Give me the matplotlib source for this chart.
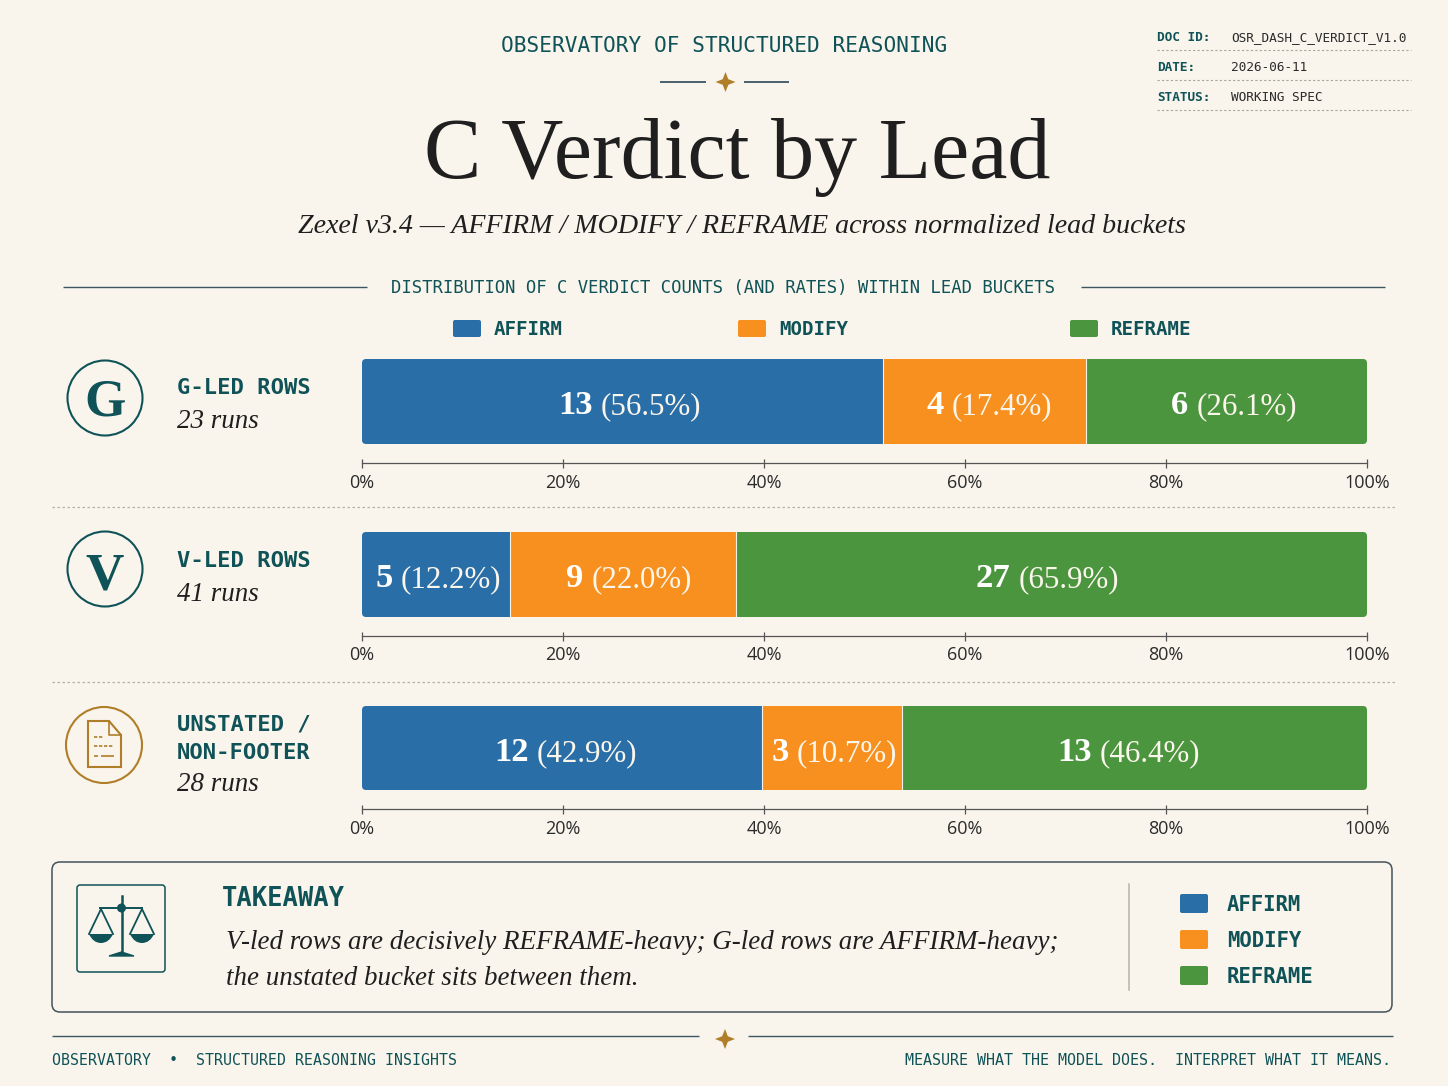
import matplotlib
matplotlib.use('Agg')
import matplotlib.pyplot as plt
from matplotlib.patches import FancyBboxPatch, Circle, Polygon
from matplotlib.path import Path
from matplotlib.patches import PathPatch

# values as drawn (bar widths in percent of the track)
affirm_width = [51.8, 14.7, 39.8]
modify_width = [20.2, 22.5, 13.9]
reframe_width = [28.0, 62.8, 46.3]
affirm_count = ['13', '5', '12']
modify_count = ['4', '9', '3']
reframe_count = ['6', '27', '13']
affirm_rate = ['(56.5%)', '(12.2%)', '(42.9%)']
modify_rate = ['(17.4%)', '(22.0%)', '(10.7%)']
reframe_rate = ['(26.1%)', '(65.9%)', '(46.4%)']
run_labels = ['23 runs', '41 runs', '28 runs']
tick_values = [0, 20, 40, 60, 80, 100]
tick_labels = ['0%', '20%', '40%', '60%', '80%', '100%']
legend_names = ['AFFIRM', 'MODIFY', 'REFRAME']

PAPER = '#f9f5ec'
TEAL = '#0f5257'
GOLD = '#b07d28'
INK = '#1f1f1f'
SLATE = '#3b5563'
COLORS = ['#2a6ea8', '#f7901e', '#4a953e']
SERIF = 'Liberation Serif'
MONO = 'DejaVu Sans Mono'
SANS = 'Open Sans'
W, H = 1448, 1086


def px(size):
    return size * 0.72


fig = plt.figure(figsize=(14.48, 10.86), dpi=100, facecolor=PAPER)
page = fig.add_axes([0, 0, 1, 1])
page.set_xlim(0, W)
page.set_ylim(H, 0)
page.axis('off')


def text(x, y, s, size, font=MONO, color=INK, weight='normal', style='normal', ha='left'):
    return page.text(x, y, s, fontsize=px(size), family=font, color=color, weight=weight,
                     style=style, ha=ha, va='baseline')


def star(x, y, r):
    k = r * 0.28
    pts = [(x, y - r), (x + k, y - k), (x + r, y), (x + k, y + k),
           (x, y + r), (x - k, y + k), (x - r, y), (x - k, y - k)]
    page.add_patch(Polygon(pts, closed=True, fc=GOLD, ec='none'))


def hline(x0, x1, y, color=SLATE, lw=1.0, ls='-'):
    page.plot([x0, x1], [y, y], color=color, lw=lw, ls=ls, solid_capstyle='butt')


def swatch(x0, y0, x1, y1, color):
    page.add_patch(FancyBboxPatch((x0 + 2, y0 + 2), x1 - x0 - 4, y1 - y0 - 4,
                                  boxstyle='round,pad=2,rounding_size=2', fc=color, ec='none'))


# header
text(724, 52, 'OBSERVATORY OF STRUCTURED REASONING', 21.1, color=TEAL, ha='center')
hline(660, 706, 82, lw=1.3)
hline(744, 789, 82, lw=1.3)
star(725.5, 82, 10)
text(737, 178, 'C Verdict by Lead', 86, font=SERIF, color=INK, ha='center')
text(742, 233, 'Zexel v3.4 — AFFIRM / MODIFY / REFRAME across normalized lead buckets', 28,
     font=SERIF, style='italic', ha='center')

# doc panel
doc_keys = ['DOC ID:', 'DATE:', 'STATUS:']
doc_vals = ['OSR_DASH_C_VERDICT_V1.0', '2026-06-11', 'WORKING SPEC']
for i in range(3):
    y = 41 + 30 * i
    text(1157, y, doc_keys[i], 12.7, color=TEAL, weight='bold')
    text(1231, y, doc_vals[i], 12.7, color='#2b2b2b')
    hline(1157, 1411, y + 9, color='#a8a69c', lw=0.8, ls=(0, (2, 2)))

# section heading
hline(63, 367, 287)
hline(1081, 1385, 287)
text(723, 293, 'DISTRIBUTION OF C VERDICT COUNTS (AND RATES) WITHIN LEAD BUCKETS', 17.3,
     color=TEAL, ha='center')

# top legend
legend_x = [453, 738, 1070]
for i in range(3):
    swatch(legend_x[i], 320, legend_x[i] + 28, 337, COLORS[i])
    text(legend_x[i] + 41, 335, legend_names[i], 19.1, color=TEAL, weight='bold')

# row labels and icons
text(177, 394, 'G-LED ROWS', 22.2, color=TEAL, weight='bold')
text(177, 428, run_labels[0], 27, font=SERIF, style='italic')
text(177, 567, 'V-LED ROWS', 22.2, color=TEAL, weight='bold')
text(177, 601, run_labels[1], 27, font=SERIF, style='italic')
text(177, 731, 'UNSTATED /', 22.2, color=TEAL, weight='bold')
text(177, 759, 'NON-FOOTER', 22.2, color=TEAL, weight='bold')
text(177, 791, run_labels[2], 27, font=SERIF, style='italic')

page.add_patch(Circle((105, 398), 37.5, fc='none', ec=TEAL, lw=1.5))
page.add_patch(Circle((105, 569), 37.5, fc='none', ec=TEAL, lw=1.5))
page.add_patch(Circle((104, 745), 38, fc='none', ec=GOLD, lw=1.5))
text(105, 416, 'G', 53, font=SERIF, color=TEAL, weight='bold', ha='center')
text(105, 590, 'V', 53, font=SERIF, color=TEAL, weight='bold', ha='center')

# document icon
page.add_patch(Polygon([(88, 721), (109, 721), (121, 735), (121, 767), (88, 767)],
                       closed=True, fc='none', ec=GOLD, lw=1.5))
page.plot([109, 109, 121], [721, 735, 735], color=GOLD, lw=1.2)
hline(94, 103, 737, color=GOLD, lw=1.2, ls=(0, (2, 1)))
hline(94, 113, 746, color=GOLD, lw=1.2, ls=(0, (2, 1)))
hline(94, 98, 756, color=GOLD, lw=1.2)
hline(101, 114, 756, color=GOLD, lw=1.2)

# separators between rows
hline(52, 1397, 507, color='#b5b0a5', lw=0.9, ls=(0, (2, 2)))
hline(52, 1397, 682, color='#b5b0a5', lw=0.9, ls=(0, (2, 2)))

# bar rows: top, bottom of the bar, and the pixel centre of each value label
row_top = [359, 532, 706]
row_bottom = [444, 617, 790]
label_center = [[630, 989, 1234], [438, 629, 1047], [566, 834, 1129]]
renderer = fig.canvas.get_renderer()


def value_label(cx, cy, count, rate):
    a = text(0, cy, count, 34.5, font=SERIF, color='white', weight='bold')
    b = text(0, cy, rate, 31, font=SERIF, color='#fbf6ec')
    wa = a.get_window_extent(renderer).width
    wb = b.get_window_extent(renderer).width
    gap = 8
    left = cx - (wa + gap + wb) / 2
    a.set_x(left)
    b.set_x(left + wa + gap)


for r in range(3):
    top, bottom = row_top[r], row_bottom[r]
    ax = fig.add_axes([362 / W, (H - bottom) / H, 1005 / W, (bottom - top) / H], facecolor='none')
    clip = FancyBboxPatch((364, top + 2), 1001, bottom - top - 4,
                          boxstyle='round,pad=2,rounding_size=4', transform=page.transData)
    widths = [affirm_width[r], modify_width[r], reframe_width[r]]
    left = 0
    for i in range(3):
        bars = ax.barh([0.5], [widths[i]], left=left, height=1, color=COLORS[i], linewidth=0)
        for b in bars:
            b.set_clip_path(clip)
        left += widths[i]
        if i < 2:
            ax.axvline(left, color='#f7f2e8', lw=0.8)
    ax.set_xlim(0, 100)
    ax.set_ylim(0, 1)
    # spine position first, it resets the ticks
    for side in ['top', 'left', 'right']:
        ax.spines[side].set_visible(False)
    ax.spines['bottom'].set_position(('outward', px(19)))
    ax.spines['bottom'].set_color('#555555')
    ax.spines['bottom'].set_linewidth(0.9)
    ax.set_yticks([])
    ax.set_xticks(tick_values)
    ax.set_xticklabels(tick_labels, fontsize=px(18), family=SANS, color='#2b2b2b')
    ax.tick_params(axis='x', direction='inout', length=px(9), width=0.9, color='#555555', pad=px(6))

# value labels sit over the bars, so they go on an axes above them
page_main = page
page = fig.add_axes([0, 0, 1, 1], facecolor='none')
page.set_xlim(0, W)
page.set_ylim(H, 0)
page.axis('off')
counts = [affirm_count, modify_count, reframe_count]
rates = [affirm_rate, modify_rate, reframe_rate]
for r in range(3):
    base = row_top[r] + 55
    for i in range(3):
        value_label(label_center[r][i], base, counts[i][r], rates[i][r])
page = page_main

# takeaway box
page.add_patch(FancyBboxPatch((60, 870), 1324, 134, boxstyle='round,pad=8,rounding_size=8',
                              fc='none', ec='#44525a', lw=1.1))
page.add_patch(FancyBboxPatch((80, 888), 82, 81, boxstyle='round,pad=3,rounding_size=3',
                              fc='none', ec=TEAL, lw=1.1))
# scales icon
hline(99, 143, 908, color=TEAL, lw=1.4)
page.plot([121.5, 121.5], [896, 954], color=TEAL, lw=1.8)
page.add_patch(Polygon([(109, 956), (121.5, 952), (134, 956)], closed=True, fc=TEAL, ec=TEAL, lw=1))
page.add_patch(Circle((121.5, 908), 4.5, fc=TEAL, ec='none'))
for cx in [101, 142]:
    page.plot([cx - 12, cx, cx + 12], [934, 909, 934], color=TEAL, lw=1.3)
    bowl = Path([(cx - 12, 934), (cx + 12, 934), (cx + 8, 943), (cx, 943), (cx - 8, 943), (cx - 12, 934)],
                [Path.MOVETO, Path.LINETO, Path.CURVE3, Path.CURVE3, Path.CURVE3, Path.CURVE3])
    page.add_patch(PathPatch(bowl, fc=TEAL, ec='none'))

text(222, 906, 'TAKEAWAY', 25.5, color=TEAL, weight='bold')
text(226, 949, 'V-led rows are decisively REFRAME-heavy; G-led rows are AFFIRM-heavy;', 27,
     font=SERIF, style='italic')
text(226, 985, 'the unstated bucket sits between them.', 27, font=SERIF, style='italic')
page.plot([1129, 1129], [884, 990], color='#b5b5ac', lw=1.1)
swatch_top = [894, 930, 966]
for i in range(3):
    swatch(1180, swatch_top[i], 1208, swatch_top[i] + 19, COLORS[i])
    text(1227, swatch_top[i] + 17, legend_names[i], 20.6, color=TEAL, weight='bold')

# footer
hline(52, 699, 1036)
hline(748, 1393, 1036)
star(725, 1039, 10)
text(52, 1065, 'OBSERVATORY  •  STRUCTURED REASONING INSIGHTS', 14.9, color=TEAL)
text(1391, 1065, 'MEASURE WHAT THE MODEL DOES.  INTERPRET WHAT IT MEANS.', 15, color=TEAL, ha='right')

fig.savefig('out.png', dpi=100, facecolor=PAPER)
